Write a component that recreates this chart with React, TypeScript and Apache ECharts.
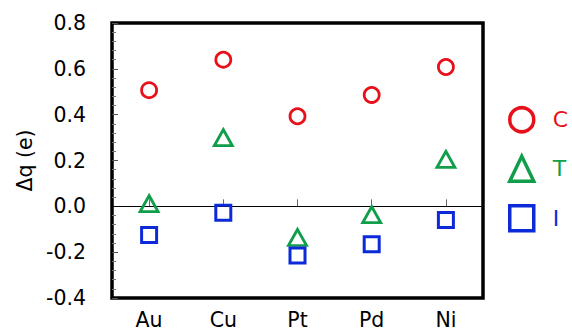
import React, { useEffect, useRef } from "react";
import * as echarts from "echarts";

const categories = ["Au", "Cu", "Pt", "Pd", "Ni"];
const seriesC = [0.507, 0.64, 0.393, 0.486, 0.608];
const seriesT = [0.012, 0.3, -0.136, -0.036, 0.205];
const seriesI = [-0.125, -0.028, -0.215, -0.165, -0.06];
const yMin = -0.4;
const yMax = 0.8;
const yInterval = 0.2;

const RED = "#e8101a";
const GREEN = "#109e4a";
const BLUE = "#0c2ad8";
const FONT = "DejaVu Sans";

export default function App() {
  const ref = useRef<HTMLDivElement>(null);
  useEffect(() => {
    if (!ref.current) return;
    const chart = echarts.init(ref.current, undefined, { renderer: "svg" });
    const hollow = (c: string, w: number) => ({
      color: "rgba(0,0,0,0)",
      borderColor: c,
      borderWidth: w,
      opacity: 1,
    });
    chart.setOption({
      animation: false,
      textStyle: { fontFamily: FONT },
      grid: {
        left: 112,
        right: 89,
        top: 23,
        bottom: 33,
        show: true,
        borderColor: "#000",
        borderWidth: 3.5,
        backgroundColor: "rgba(0,0,0,0)",
      },
      legend: {
        orient: "vertical",
        left: 503,
        top: 101,
        itemWidth: 24,
        itemHeight: 25,
        itemGap: 21,
        textStyle: { fontSize: 22, fontFamily: FONT, padding: [0, 0, 0, 14] },
        data: [
          { name: "C", icon: "circle", itemStyle: hollow(RED, 3.5), textStyle: { color: RED } },
          { name: "T", icon: "triangle", itemStyle: hollow(GREEN, 3.5), textStyle: { color: GREEN } },
          { name: "I", icon: "rect", itemStyle: hollow(BLUE, 3.5), textStyle: { color: BLUE } },
        ],
      },
      xAxis: {
        type: "category",
        data: categories,
        axisLine: { show: false },
        axisTick: {
          show: true,
          alignWithLabel: true,
          inside: true,
          length: 7,
          lineStyle: { color: "#666", width: 1 },
        },
        axisLabel: { fontSize: 20.5, color: "#000", margin: 11, fontFamily: FONT },
        splitLine: { show: false },
      },
      yAxis: {
        type: "value",
        min: yMin,
        max: yMax,
        interval: yInterval,
        name: "Δq (e)",
        nameLocation: "middle",
        nameGap: 76,
        nameTextStyle: { fontSize: 20.5, color: "#000", fontFamily: FONT },
        axisLine: { show: false },
        axisTick: { show: true, inside: true, length: 6, lineStyle: { color: "#555" } },
        minorTick: { show: true, splitNumber: 5, length: 4, lineStyle: { color: "#777" } },
        axisLabel: {
          fontSize: 20.5,
          color: "#000",
          margin: 26,
          fontFamily: FONT,
          formatter: (v: number) => v.toFixed(1),
        },
        splitLine: { show: false },
      },
      series: [
        {
          name: "C",
          type: "scatter",
          symbol: "circle",
          symbolSize: 15,
          itemStyle: hollow(RED, 2.8),
          data: seriesC,
          z: 3,
          markLine: {
            silent: true,
            symbol: ["none", "none"],
            label: { show: false },
            lineStyle: { color: "#000", width: 1, type: "solid", opacity: 1 },
            data: [{ yAxis: 0 }],
            z: 1,
          },
        },
        {
          name: "T",
          type: "scatter",
          symbol: "triangle",
          symbolSize: [18, 16],
          itemStyle: hollow(GREEN, 2.8),
          data: seriesT,
          z: 3,
        },
        {
          name: "I",
          type: "scatter",
          symbol: "rect",
          symbolSize: 15,
          itemStyle: hollow(BLUE, 3),
          data: seriesI,
          z: 3,
        },
      ],
    });
    return () => chart.dispose();
  }, []);
  return (
    <div
      ref={ref}
      style={{ position: "fixed", left: 0, top: 0, width: 572, height: 331, background: "#fff" }}
    />
  );
}
